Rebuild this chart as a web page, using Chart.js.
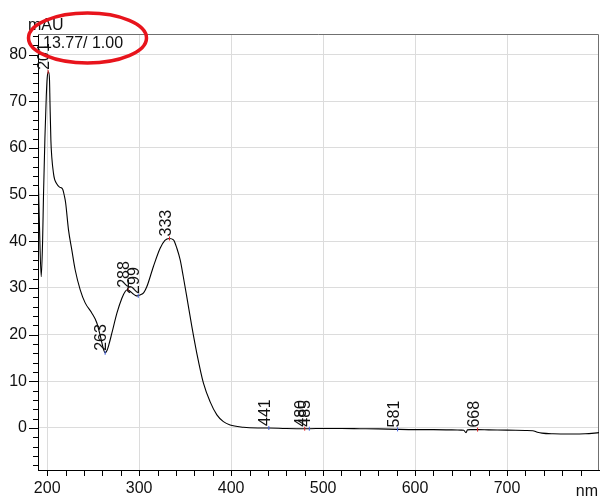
<!DOCTYPE html>
<html>
<head>
<meta charset="utf-8">
<script src="https://cdn.jsdelivr.net/npm/chart.js@4/dist/chart.umd.min.js"></script>
<style>
html,body{margin:0;padding:0;background:#fff;}
#wrap{width:600px;height:499px;position:relative;}
</style>
</head>
<body>
<div id="wrap"><canvas id="c" width="600" height="499"></canvas></div>
<script>
// ---- data ----
const wavelengths = [190,191.5,193.5,195,196,197.5,199,200,201.4,202.5,203,204,205,206.8,208,209.8,213.4,216.7,218.8,220,223.2,226.8,230.4,235.9,241.3,248.6,254,258,261,263,265,267,270.3,275.8,281.2,285,287.3,290,293,296,298.2,301,305,308.4,315.5,322.8,328,332.9,337.3,341,344.6,348,351.8,357.3,362.7,369.9,377.2,384.5,391.6,398.9,413.4,420,441,460,480,485,500,520,540,560,581,600,620,640,650,653,655.4,657,660,668,680,700,720,728,733,738,750,770,785,800];
const absorbance  = [56,44,32.4,40,50,62,71,75,76.3,74.6,70,61.7,58,54.6,53.3,52.5,51.6,51.2,49.6,48.3,42.4,38.1,33.9,29.6,26.8,24.6,22.5,19.5,17,16.1,16.6,17.8,20.3,24.6,27.8,29.3,29.6,29.3,28.8,28.4,28.3,28.5,29,30.3,34.6,38.5,40.2,40.6,40.3,38.5,36,32.4,28.1,21.7,16,9.6,5.6,2.8,1.35,0.64,0.15,0.05,0,-0.1,-0.15,-0.15,-0.1,-0.1,-0.15,-0.2,-0.3,-0.35,-0.35,-0.4,-0.45,-0.5,-1.0,-0.4,-0.35,-0.35,-0.4,-0.45,-0.55,-0.6,-0.9,-1.1,-1.25,-1.3,-1.25,-1.0];

const peakNm    = [201,263,288,299,333,441,480,485,581,668];
const peakValue = [76.3,16.1,29.6,28.3,40.6,0,-0.15,-0.15,-0.3,-0.35];
const peakKind  = ['max','min','max','min','max','min','max','min','min','max'];

const xMajorTicks = [200,300,400,500,600,700];
const yMajorTicks = [0,10,20,30,40,50,60,70,80];
const xUnit = 'nm';
const yUnit = 'mAU';
const headerText = '13.77/ 1.00';

const FONT = '"Liberation Sans", Arial, Helvetica, sans-serif';

const lineData = wavelengths.map((w,i)=>({x:w,y:absorbance[i]}));
const peakData = peakNm.map((w,i)=>({x:w,y:peakValue[i]}));
const peakColors = peakKind.map(k => k==='max' ? '#e02020' : '#4060e0');

function buildTicks(min, max, step){
  const t=[]; for(let v=min; v<=max+1e-9; v+=step) t.push({value:Math.round(v*100)/100}); return t;
}

const extras = {
  id:'extras',
  beforeDatasetsDraw(chart){
    const {ctx, chartArea:a} = chart;
    ctx.save();
    ctx.strokeStyle='#707070'; ctx.lineWidth=1;
    ctx.beginPath();
    ctx.moveTo(a.left, a.top+0.5); ctx.lineTo(a.right-0.5, a.top+0.5); ctx.lineTo(a.right-0.5, a.bottom);
    ctx.stroke();
    ctx.restore();
  },
  afterDraw(chart){
    const {ctx, chartArea:a, scales:{x, y}} = chart;
    ctx.save();
    ctx.strokeStyle='#000'; ctx.lineWidth=1;
    ctx.beginPath();
    y.ticks.forEach(t=>{
      const py = Math.round(y.getPixelForValue(t.value))+0.5;
      const len = (t.value % 10 === 0) ? 9 : 5;
      ctx.moveTo(a.left-len, py); ctx.lineTo(a.left, py);
    });
    x.ticks.forEach(t=>{
      const px = Math.round(x.getPixelForValue(t.value))+0.5;
      ctx.moveTo(px, a.bottom); ctx.lineTo(px, a.bottom+6);
    });
    ctx.stroke();
    ctx.fillStyle='#111';
    ctx.font = '16px '+FONT;
    ctx.textBaseline='alphabetic';
    ctx.textAlign='right';
    ctx.fillText(xUnit, a.right-1, 496);
    ctx.textAlign='left';
    ctx.fillText(yUnit, 28, 30);
    ctx.fillText(headerText, 43, 48);
    peakNm.forEach((w,i)=>{
      const px = x.getPixelForValue(w), py = y.getPixelForValue(peakValue[i]);
      ctx.save();
      ctx.translate(px+1, py-2);
      ctx.rotate(-Math.PI/2);
      ctx.textAlign='left'; ctx.textBaseline='alphabetic';
      ctx.fillText(String(w), 0, 0);
      ctx.restore();
    });
    ctx.strokeStyle='#e8141c'; ctx.lineWidth=3.5;
    ctx.beginPath();
    ctx.ellipse(87.5, 38, 59, 25, 0, 0, Math.PI*2);
    ctx.stroke();
    ctx.restore();
  }
};

new Chart(document.getElementById('c'), {
  type:'scatter',
  data:{datasets:[
    {type:'line', data:lineData, borderColor:'#000', borderWidth:1.1, pointRadius:0, fill:false, cubicInterpolationMode:'monotone', order:2},
    {type:'scatter', data:peakData, pointStyle:'line', rotation:90, radius:2, borderColor:peakColors, borderWidth:1, backgroundColor:peakColors, order:1}
  ]},
  options:{
    responsive:false, animation:false, devicePixelRatio:1,
    layout:{autoPadding:false, padding:{top:34,right:1,left:0,bottom:0}},
    plugins:{legend:{display:false}, tooltip:{enabled:false}},
    scales:{
      x:{type:'linear', min:190, max:800,
        afterBuildTicks(s){ s.ticks = buildTicks(200,780,20); },
        afterFit(s){ s.height = 29; s.paddingLeft = 0; s.paddingRight = 0; },
        border:{display:true,color:'#000',width:1},
        grid:{drawTicks:false, color:(c)=> (c.tick && xMajorTicks.includes(c.tick.value)) ? '#dcdcdc' : 'rgba(0,0,0,0)'},
        ticks:{autoSkip:false, maxRotation:0, padding:9, color:'#111', font:{family:FONT,size:16},
          callback:(v)=> xMajorTicks.includes(v) ? String(v) : ''}
      },
      y:{type:'linear', min:-9, max:84.4,
        afterBuildTicks(s){ s.ticks = buildTicks(-8,84,2); },
        afterFit(s){ s.width = 38; s.paddingTop = 0; s.paddingBottom = 0; },
        border:{display:true,color:'#000',width:1},
        grid:{drawTicks:false, color:(c)=> (c.tick && yMajorTicks.includes(c.tick.value)) ? '#dcdcdc' : 'rgba(0,0,0,0)'},
        ticks:{autoSkip:false, padding:11, color:'#111', font:{family:FONT,size:16},
          callback:(v)=> yMajorTicks.includes(v) ? String(v) : ''}
      }
    }
  },
  plugins:[extras]
});
</script>
</body>
</html>
